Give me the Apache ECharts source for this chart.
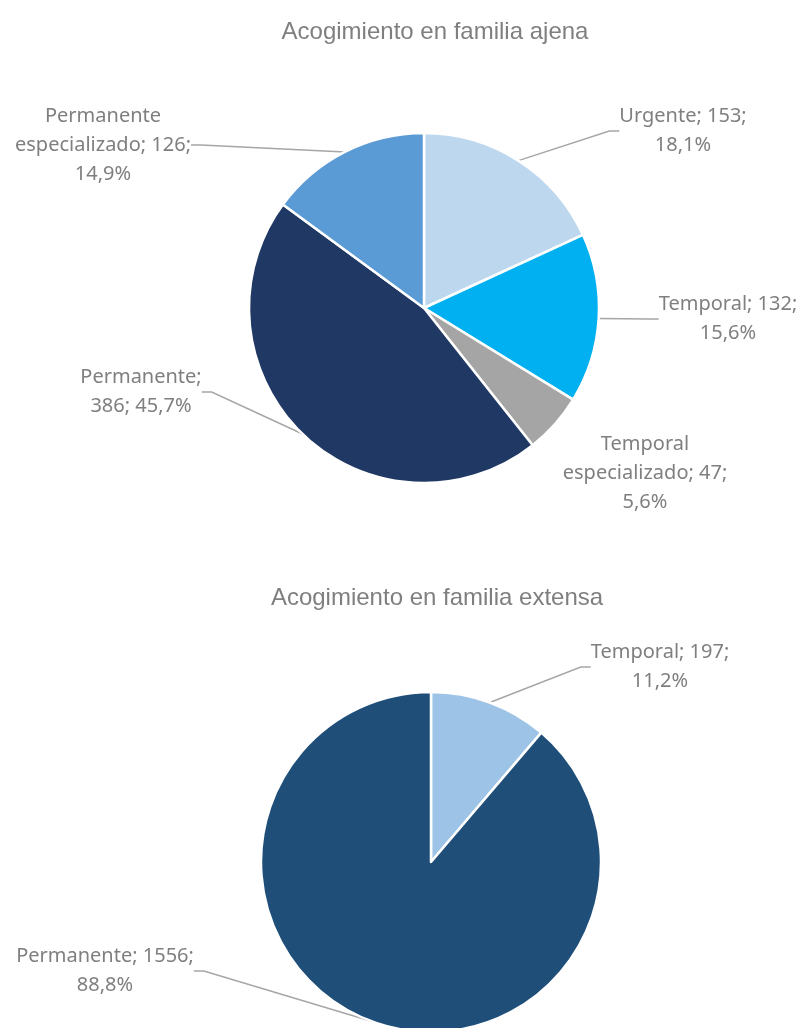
<!DOCTYPE html>
<html>
<head>
<meta charset="utf-8">
<script src="https://cdn.jsdelivr.net/npm/echarts@6/dist/echarts.min.js"></script>
<style>
  html, body { margin: 0; padding: 0; background: #fff; }
  #myChart { width: 804px; height: 1028px; }
</style>
</head>
<body>
<div id="myChart"></div>
<script>
// Acogimiento en familia ajena
var ajenaNames = ['Urgente', 'Temporal', 'Temporal especializado', 'Permanente', 'Permanente especializado']
var ajenaValues = [153, 132, 47, 386, 126]
var ajenaColors = ['#BDD7EE', '#00B0F0', '#A5A5A5', '#203864', '#5B9BD5']

// Acogimiento en familia extensa
var extensaNames = ['Temporal', 'Permanente']
var extensaValues = [197, 1556]
var extensaColors = ['#9DC3E6', '#1F4E79']

// label text layout (where lines break)
var ajenaWrap = ['{n}; {v};\n{p}', '{n}; {v};\n{p}', 'Temporal\nespecializado; {v};\n{p}', '{n};\n{v}; {p}', 'Permanente\nespecializado; {v};\n{p}']
var extensaWrap = ['{n}; {v};\n{p}', '{n}; {v};\n{p}']
// label anchor points (centre of text block) and leader line on/off
var ajenaLabelPos = [[683, 131], [728, 319], [645, 473], [141, 392], [103, 145]]
var ajenaLine = [true, true, false, true, true]
var extensaLabelPos = [[660, 667], [105, 971]]
var extensaLine = [true, true]

function toData (names, values, colors, lines) {
  var out = []
  for (var i in names) {
    out.push({ name: names[i], value: values[i], itemStyle: { color: colors[i] }, labelLine: { show: lines[i] } })
  }
  return out
}

function makeFormatter (wrap) {
  return function (p) {
    return wrap[p.dataIndex]
      .replace('{n}', p.name)
      .replace('{v}', p.value)
      .replace('{p}', p.percent.toFixed(1).replace('.', ',') + '%')
  }
}

function makeLayout (pos) {
  return function (params) {
    return { x: pos[params.dataIndex][0], y: pos[params.dataIndex][1], align: 'center', verticalAlign: 'middle' }
  }
}

var labelStyle = {
  show: true,
  position: 'outside',
  color: '#7F7F7F',
  fontFamily: 'Noto Sans',
  fontSize: 20,
  lineHeight: 29,
  align: 'center'
}
var titleStyle = { color: '#7F7F7F', fontFamily: 'Liberation Sans', fontSize: 24, fontWeight: 'normal' }
var lineStyle = { color: '#A6A6A6', width: 1.5 }

var myChart = echarts.init(document.getElementById('myChart'))
var option = {
  animation: false,
  title: [{
    text: 'Acogimiento en familia ajena',
    left: 430,
    top: 15,
    textAlign: 'center',
    textStyle: titleStyle
  }, {
    text: 'Acogimiento en familia extensa',
    left: 432,
    top: 581,
    textAlign: 'center',
    textStyle: titleStyle
  }],
  series: [{
    name: 'ajena',
    type: 'pie',
    center: [424, 308],
    radius: 175,
    startAngle: 90,
    clockwise: true,
    percentPrecision: 4,
    itemStyle: { borderColor: '#fff', borderWidth: 2.5 },
    label: Object.assign({}, labelStyle, { formatter: makeFormatter(ajenaWrap) }),
    labelLine: { show: true, length: 20, length2: 10, lineStyle: lineStyle },
    labelLayout: makeLayout(ajenaLabelPos),
    data: toData(ajenaNames, ajenaValues, ajenaColors, ajenaLine)
  }, {
    name: 'extensa',
    type: 'pie',
    center: [431, 862],
    radius: 170,
    startAngle: 90,
    clockwise: true,
    percentPrecision: 4,
    itemStyle: { borderColor: '#fff', borderWidth: 2.5 },
    label: Object.assign({}, labelStyle, { formatter: makeFormatter(extensaWrap) }),
    labelLine: { show: true, length: 20, length2: 10, lineStyle: lineStyle },
    labelLayout: makeLayout(extensaLabelPos),
    data: toData(extensaNames, extensaValues, extensaColors, extensaLine)
  }]
}
myChart.setOption(option)
</script>
</body>
</html>
